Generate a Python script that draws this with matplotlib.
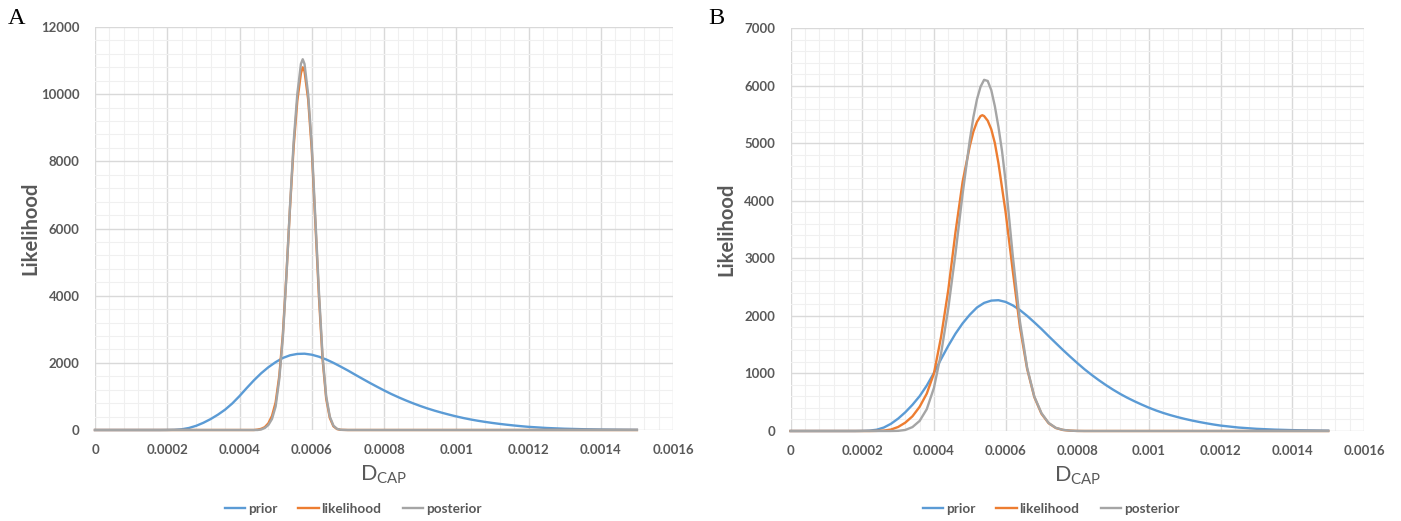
import matplotlib
matplotlib.use("Agg")
import matplotlib.pyplot as plt
from matplotlib.ticker import MultipleLocator
from matplotlib.lines import Line2D

# ---------------- data ----------------
series_names = ["prior", "likelihood", "posterior"]
series_colors = ["#5B9BD5", "#ED7D31", "#A5A5A5"]

x_ticks = [0, 0.0002, 0.0004, 0.0006, 0.0008, 0.001, 0.0012, 0.0014, 0.0016]
x_tick_labels = ["0", "0.0002", "0.0004", "0.0006", "0.0008", "0.001",
                 "0.0012", "0.0014", "0.0016"]
a_y_ticks = [0, 2000, 4000, 6000, 8000, 10000, 12000]
b_y_ticks = [0, 1000, 2000, 3000, 4000, 5000, 6000, 7000]

# prior (identical in both panels)
prior_x = [0, 0.00018, 0.0002, 0.00022, 0.00024, 0.00026, 0.00028, 0.0003,
           0.00032, 0.00034, 0.00036, 0.00038, 0.0004, 0.00042, 0.00044,
           0.00046, 0.00048, 0.0005, 0.00052, 0.00054, 0.00056, 0.00058,
           0.0006, 0.00062, 0.00064, 0.00066, 0.00068, 0.0007, 0.00072,
           0.00074, 0.00076, 0.00078, 0.0008, 0.00082, 0.00084, 0.00086,
           0.00088, 0.0009, 0.00092, 0.00094, 0.00096, 0.00098, 0.001,
           0.00102, 0.00104, 0.00106, 0.00108, 0.0011, 0.00112, 0.00114,
           0.00116, 0.00118, 0.0012, 0.00125, 0.0013, 0.00135, 0.0014,
           0.00145, 0.0015]
prior_y = [0, 0, 2, 7, 22, 60, 125, 215, 325, 455, 605, 790, 1010,
           1250, 1480, 1690, 1870, 2020, 2145, 2225, 2265, 2272, 2242,
           2182, 2100, 2000, 1888, 1772, 1648, 1527, 1407, 1292, 1180,
           1073, 975, 883, 797, 717, 643, 576, 515, 458, 404,
           356, 313, 275, 241, 210, 182, 157, 134, 113, 94,
           60, 38, 24, 15, 10, 6]

# panel A: likelihood and posterior
a_lik_x = [0, 0.00044, 0.00045, 0.00046, 0.00047, 0.00048, 0.00049, 0.0005,
           0.00051, 0.00052, 0.00053, 0.00054, 0.00055, 0.00056, 0.00057,
           0.000575, 0.00058, 0.00059, 0.0006, 0.00061, 0.00062, 0.00063,
           0.00064, 0.00065, 0.00066, 0.00067, 0.00068, 0.0007, 0.0015]
a_lik_y = [0, 0, 12, 35, 85, 200, 420, 820,
           1600, 2850, 4650, 6650, 8450, 9800, 10620,
           10800, 10680, 9850, 8350, 6150, 3950, 2100,
           930, 360, 110, 28, 5, 0, 0]

a_post_x = [0, 0.00045, 0.00046, 0.00047, 0.00048, 0.00049, 0.0005,
            0.00051, 0.00052, 0.00053, 0.00054, 0.00055, 0.00056, 0.00057,
            0.000575, 0.00058, 0.00059, 0.0006, 0.00061, 0.00062, 0.00063,
            0.00064, 0.00065, 0.00066, 0.00067, 0.00068, 0.0007, 0.0015]
a_post_y = [0, 0, 15, 60, 150, 330, 700,
            1500, 2750, 4600, 6700, 8600, 10000, 10900,
            11040, 10900, 10000, 8500, 6300, 4100, 2200,
            1000, 400, 130, 35, 6, 0, 0]

# panel B: likelihood and posterior
b_lik_x = [0, 0.00022, 0.00024, 0.00026, 0.00028, 0.0003, 0.00032, 0.00034,
           0.00036, 0.00038, 0.0004, 0.00042, 0.00044, 0.00046, 0.00048,
           0.0005, 0.00051, 0.00052, 0.00053, 0.000535, 0.00054, 0.00055,
           0.00056, 0.00057, 0.00058, 0.0006, 0.00062, 0.00064, 0.00066,
           0.00068, 0.0007, 0.00072, 0.00074, 0.00076, 0.00078, 0.0008,
           0.00082, 0.0015]
b_lik_y = [0, 0, 2, 7, 25, 70, 145, 255,
           420, 650, 1000, 1640, 2450, 3450, 4330,
           4950, 5200, 5370, 5470, 5485, 5470, 5390,
           5240, 5000, 4650, 3800, 2780, 1800, 1080,
           590, 300, 135, 52, 18, 6, 1,
           0, 0]

b_post_x = [0, 0.00028, 0.0003, 0.00032, 0.00034, 0.00036, 0.00038, 0.0004,
            0.00042, 0.00044, 0.00046, 0.00048, 0.0005, 0.00051, 0.00052,
            0.00053, 0.00054, 0.00055, 0.00056, 0.00057, 0.00058, 0.00059,
            0.0006, 0.00062, 0.00064, 0.00066, 0.00068, 0.0007, 0.00072,
            0.00074, 0.00076, 0.00078, 0.0008, 0.00082, 0.0015]
b_post_y = [0, 0, 3, 18, 68, 175, 380, 750,
            1350, 2130, 3080, 4120, 5050, 5450, 5760,
            5980, 6100, 6080, 5920, 5640, 5280, 4860,
            4330, 3040, 1900, 1100, 600, 310, 140,
            55, 20, 6, 1, 0, 0]

# ---------------- styling ----------------
FONT = "Lato"
TEXT_COLOR = "#595959"
plt.rcParams["font.family"] = [FONT, "DejaVu Sans"]
plt.rcParams["mathtext.fontset"] = "custom"
plt.rcParams["mathtext.rm"] = FONT

W, H = 1401, 521
fig = plt.figure(figsize=(W / 100, H / 100), dpi=100)
fig.patch.set_facecolor("white")


def px_axes(left, top, right, bottom):
    return fig.add_axes([left / W, 1 - bottom / H, (right - left) / W,
                         (bottom - top) / H])


def style_axes(ax, ymax, ystep, yticks):
    ax.set_xlim(0, 0.0016)
    ax.set_ylim(0, ymax)
    ax.set_xticks(x_ticks)
    ax.set_xticklabels(x_tick_labels)
    ax.set_yticks(yticks)
    ax.set_yticklabels([str(v) for v in yticks])
    ax.xaxis.set_minor_locator(MultipleLocator(0.00004))
    ax.yaxis.set_minor_locator(MultipleLocator(ystep / 5))
    ax.grid(which="major", color="#D9D9D9", linewidth=1.0, zorder=0)
    ax.grid(which="minor", color="#F0F0F0", linewidth=0.8, zorder=0)
    ax.set_axisbelow(True)
    for s in ax.spines.values():
        s.set_visible(False)
    ax.tick_params(which="both", length=0)
    ax.tick_params(axis="x", pad=10, labelsize=9.5, labelcolor=TEXT_COLOR)
    ax.tick_params(axis="y", pad=11, labelsize=9.5, labelcolor=TEXT_COLOR)
    for lab in ax.get_xticklabels() + ax.get_yticklabels():
        lab.set_fontweight("bold")
    ax.set_ylabel("Likelihood", fontsize=14.5, fontweight="bold",
                  color=TEXT_COLOR)
    ax.yaxis.set_label_coords(-0.094, 0.5)
    ax.set_xlabel(r"$\mathregular{D_{CAP}}$", fontsize=15.5, color=TEXT_COLOR)
    ax.xaxis.set_label_coords(0.5, -0.083)


def draw(ax, lik_x, lik_y, post_x, post_y):
    kw = dict(linewidth=1.7, clip_on=False, solid_joinstyle="round")
    ax.plot(prior_x, prior_y, color=series_colors[0], zorder=3, **kw)
    ax.plot(lik_x, lik_y, color=series_colors[1], zorder=4, **kw)
    ax.plot(post_x, post_y, color=series_colors[2], zorder=5, **kw)


axA = px_axes(95, 27, 673, 430)
style_axes(axA, 12000, 2000, a_y_ticks)
draw(axA, a_lik_x, a_lik_y, a_post_x, a_post_y)

axB = px_axes(790.6, 28, 1364, 431)
style_axes(axB, 7000, 1000, b_y_ticks)
draw(axB, b_lik_x, b_lik_y, b_post_x, b_post_y)

# panel letters
fig.text(8 / W, 1 - 18 / H, "A", fontsize=17.5, family="Liberation Serif",
         color="black", ha="left", va="center")
fig.text(708 / W, 1 - 18 / H, "B", fontsize=17.5, family="Liberation Serif",
         color="black", ha="left", va="center")

# legends
handles = [Line2D([0], [0], color=c, linewidth=1.7) for c in series_colors]
for cx in (353, 1051):
    leg = fig.legend(handles, series_names, loc="center",
                     bbox_to_anchor=(cx / W, 1 - 509 / H), ncol=3,
                     frameon=False, handlelength=1.5,
                     handletextpad=0.2, columnspacing=1.55,
                     prop={"family": FONT, "weight": "bold", "size": 9.8})
    for t in leg.get_texts():
        t.set_color(TEXT_COLOR)

fig.savefig("out.png", dpi=100, facecolor="white")
